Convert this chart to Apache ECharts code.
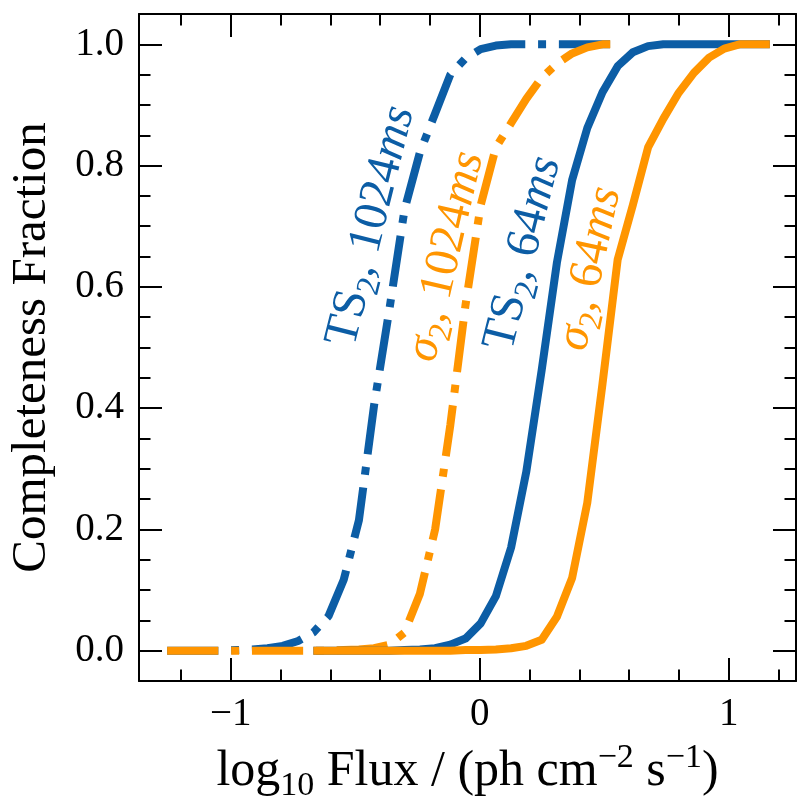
<!DOCTYPE html>
<html>
<head>
<meta charset="utf-8" />
<title>Completeness Fraction</title>
<script src="https://cdn.jsdelivr.net/npm/echarts@6/dist/echarts.min.js"></script>
<style>html,body{margin:0;padding:0;background:#fff;}</style>
</head>
<body>
<div id="main" style="width:812px;height:812px;"></div>
<script>
// log10 flux grid of the 64ms curves (solid)
var xSolid = [-0.668, -0.607, -0.546, -0.485, -0.424, -0.363, -0.302, -0.240, -0.179, -0.118,
  -0.057, 0.004, 0.065, 0.126, 0.187, 0.249, 0.310, 0.371, 0.432, 0.493,
  0.554, 0.615, 0.676, 0.737, 0.799, 0.860, 0.921, 0.982, 1.043, 1.104, 1.165];
var ts64 = [0, 0, 0, 0, 0, 0, 0.001, 0.002, 0.004, 0.01,
  0.02, 0.045, 0.09, 0.17, 0.295, 0.463, 0.64, 0.776, 0.862, 0.921,
  0.964, 0.987, 0.997, 1, 1, 1, 1, 1, 1, 1, 1];
var sig64 = [0, 0, 0, 0, 0, 0, 0, 0, 0, 0,
  0.001, 0.001, 0.002, 0.004, 0.008, 0.018, 0.056, 0.12, 0.244, 0.44,
  0.645, 0.735, 0.83, 0.877, 0.92, 0.953, 0.978, 0.993, 1, 1, 1];

// log10 flux grid of the 1024ms curves (dash-dot)
var xDash = [-1.255, -1.157, -1.096, -1.035, -0.974, -0.913, -0.852, -0.791, -0.729, -0.668,
  -0.607, -0.546, -0.485, -0.424, -0.363, -0.302, -0.240, -0.179, -0.118, -0.057,
  0.004, 0.065, 0.126, 0.187, 0.249, 0.310, 0.371, 0.432, 0.493, 0.540];
var ts1024 = [0, 0, 0, 0, 0.001, 0.002, 0.004, 0.008, 0.016, 0.03,
  0.057, 0.117, 0.215, 0.405, 0.562, 0.727, 0.822, 0.886, 0.95, 0.977,
  0.992, 0.998, 1, 1, 1, 1, 1, 1, 1, 1];
var sig1024 = [0, 0, 0, 0, 0, 0, 0, 0, 0, 0,
  0, 0.001, 0.002, 0.004, 0.01, 0.03, 0.094, 0.2, 0.372, 0.57,
  0.735, 0.83, 0.87, 0.91, 0.945, 0.968, 0.985, 0.995, 1, 1];

// ticks
var xMajor = [-1, 0, 1];
var xMajorLabels = ['\u22121', '0', '1'];
var xMinor = [-1.2, -0.8, -0.6, -0.4, -0.2, 0.2, 0.4, 0.6, 0.8, 1.2];
var yMajor = [0, 0.2, 0.4, 0.6, 0.8, 1.0];
var yMajorLabels = ['0.0', '0.2', '0.4', '0.6', '0.8', '1.0'];
var yMinor = [0.05, 0.1, 0.15, 0.25, 0.3, 0.35, 0.45, 0.5, 0.55, 0.65, 0.7, 0.75, 0.85, 0.9, 0.95];

// curve labels
var noteText = ['{r|TS}{b|2}{r|, 1024}{i|ms}', '{i|\u03c3}{b|2}{r|, 1024}{i|ms}',
  '{r|TS}{b|2}{r|, 64}{i|ms}', '{i|\u03c3}{b|2}{r|, 64}{i|ms}'];
var noteX = [-0.435, -0.135, 0.175, 0.443];
var noteY = [0.70, 0.65, 0.655, 0.63];
var noteAngle = [76, 77, 76, 78];

var BLUE = '#0C5DA5', ORANGE = '#FF9500';
var noteColor = [BLUE, ORANGE, BLUE, ORANGE];
var FONT = 'Liberation Serif';
var xMin = -1.368, xMax = 1.27, yMin = -0.05, yMax = 1.05;

function pairs(xs, ys) {
  return xs.map(function (x, i) { return [x, ys[i]]; });
}
function lookup(vals, labels) {
  return function (v) {
    for (var i = 0; i < vals.length; i++) if (Math.abs(vals[i] - v) < 1e-6) return labels[i];
    return '';
  };
}
function axis(kind, pos, ticks, len, withLine, labels) {
  var a = {
    type: 'value', position: pos,
    min: kind === 'x' ? xMin : yMin, max: kind === 'x' ? xMax : yMax,
    axisLine: {show: withLine, onZero: false, lineStyle: {color: '#000', width: 2}},
    axisTick: {show: true, inside: true, length: len, customValues: ticks,
      lineStyle: {color: '#000', width: 2}},
    axisLabel: {show: !!labels},
    splitLine: {show: false}
  };
  if (labels) {
    a.axisLabel = {show: true, customValues: ticks, formatter: lookup(ticks, labels),
      color: '#000', fontFamily: FONT, fontSize: 39, margin: kind === 'x' ? 14 : 15};
  }
  return a;
}

var xBottom = axis('x', 'bottom', xMajor, 23, true, xMajorLabels);
xBottom.name = '{r|log}{b|10}{r| Flux / (ph cm}{p|\u22122}{r| s}{p|\u22121}{r|)}';
xBottom.nameLocation = 'middle';
xBottom.nameGap = 60;
xBottom.nameTextStyle = {
  color: '#000',
  rich: {
    r: {fontFamily: FONT, fontSize: 50, lineHeight: 62, color: '#000'},
    b: {fontFamily: FONT, fontSize: 34, verticalAlign: 'bottom', color: '#000'},
    p: {fontFamily: FONT, fontSize: 34, verticalAlign: 'top', color: '#000'}
  }
};
var yLeft = axis('y', 'left', yMajor, 23, true, yMajorLabels);
yLeft.name = 'Completeness Fraction';
yLeft.nameLocation = 'middle';
yLeft.nameGap = 82;
yLeft.nameTextStyle = {color: '#000', fontFamily: FONT, fontSize: 49};

var chart = echarts.init(document.getElementById('main'));
var option = {
  animation: false,
  backgroundColor: '#fff',
  grid: {left: 139, right: 16, top: 14, bottom: 131},
  xAxis: [
    xBottom,
    axis('x', 'bottom', xMinor, 11.5, false),
    axis('x', 'top', xMajor, 23, true),
    axis('x', 'top', xMinor, 11.5, false)
  ],
  yAxis: [
    yLeft,
    axis('y', 'left', yMinor, 11.5, false),
    axis('y', 'right', yMajor, 23, true),
    axis('y', 'right', yMinor, 11.5, false)
  ],
  series: [
    {name: 'TS2, 1024ms', type: 'line', data: pairs(xDash, ts1024), symbol: 'none',
      lineStyle: {color: BLUE, width: 8, type: [51.2, 12.8, 8, 12.8], cap: 'butt'}},
    {name: 'sigma2, 1024ms', type: 'line', data: pairs(xDash, sig1024), symbol: 'none',
      lineStyle: {color: ORANGE, width: 8, type: [51.2, 12.8, 8, 12.8], cap: 'butt'}},
    {name: 'TS2, 64ms', type: 'line', data: pairs(xSolid, ts64), symbol: 'none',
      lineStyle: {color: BLUE, width: 8, cap: 'butt', join: 'round'}},
    {name: 'sigma2, 64ms', type: 'line', data: pairs(xSolid, sig64), symbol: 'none',
      lineStyle: {color: ORANGE, width: 8, cap: 'butt', join: 'round'}}
  ]
};
chart.setOption(option);

// labels along the curves, placed in data coordinates
var notes = noteText.map(function (t, i) {
  var p = chart.convertToPixel({xAxisIndex: 0, yAxisIndex: 0}, [noteX[i], noteY[i]]);
  var c = noteColor[i];
  return {
    type: 'text', x: p[0], y: p[1], rotation: noteAngle[i] * Math.PI / 180, z: 100,
    style: {
      text: t, align: 'center', verticalAlign: 'middle', fill: c,
      rich: {
        r: {fontFamily: FONT, fontSize: 48, lineHeight: 60, fill: c},
        i: {fontFamily: FONT, fontSize: 48, fontStyle: 'italic', lineHeight: 60, fill: c},
        b: {fontFamily: FONT, fontSize: 33, verticalAlign: 'bottom', fill: c}
      }
    }
  };
});
chart.setOption({graphic: notes});
</script>
</body>
</html>
